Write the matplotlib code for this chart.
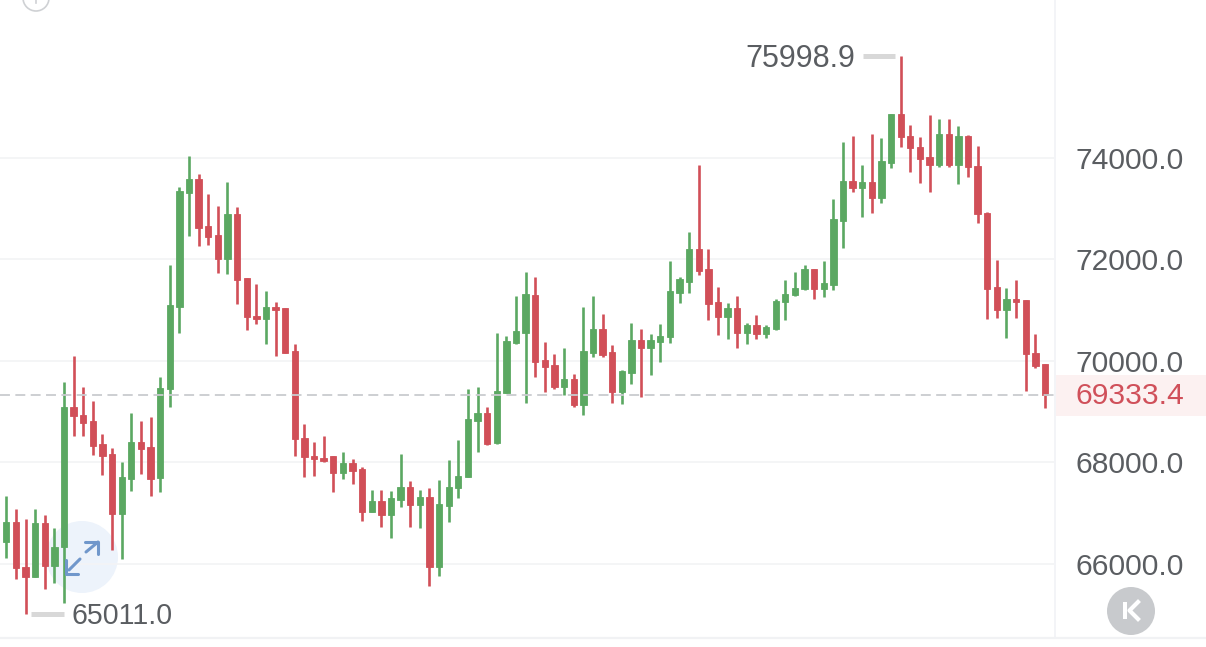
import matplotlib
matplotlib.use("Agg")
import matplotlib.pyplot as plt
from matplotlib.patches import Circle, Rectangle

opens = [66439,66821,65935,65738,66801,65967,66329,69096,68933,68815,68362,68159,66990,67679,68407,68309,
 67687,69451,71065,73309,73585,72654,72476,71998,72890,71624,70888,70823,71065,71033,70193,68486,68120,68093,
 68126,67797,67994,67864,67030,67246,66959,67260,67522,67161,67313,65935,67148,67490,67707,68809,68967,68376,
 69372,70344,70553,71295,70016,69911,69490,69636,69130,70148,70620,70167,69386,69766,70404,70258,70376,70459,
 71341,71557,72195,71801,71152,70868,71045,70547,70711,70528,70632,71152,71289,71408,71813,71419,71492,72758,
 73539,73402,73514,73211,73900,74852,74425,74215,74006,73848,74465,73848,74425,73841,72915,71447,71006,71211,
 71191,70154,69937]
closes = [66821,65915,65738,66801,65967,66341,69096,68913,68782,68329,68126,66990,67707,68407,68270,67679,
 69470,71093,73348,73585,72620,72443,71998,72890,71591,70856,70817,71059,71000,70160,68455,68100,68073,68034,
 67797,67982,67837,67030,67246,66959,67293,67510,67161,67313,65935,67181,67510,67732,68848,68967,68362,69400,
 70390,70581,71309,69982,69878,69478,69636,69124,70199,70620,70114,69386,69799,70409,70258,70409,70488,71374,
 71604,72195,71774,71124,70868,71045,70547,70711,70528,70671,71183,71315,71427,71813,71419,71526,72785,73539,
 73396,73514,73211,73933,74858,74400,74183,73967,73854,74465,73848,74419,73815,72884,71413,71006,71211,71163,
 70128,69898,69333.4]
highs = [67339,67077,66886,67077,66965,66703,69583,70094,69490,69215,68553,68278,68002,68967,68815,68888,
 69675,71880,73427,74031,73671,73278,73047,73526,73022,71624,71518,71380,71152,71033,70321,68750,68402,68520,
 68126,68211,68067,67915,67457,67457,67431,68171,67628,67457,67490,67654,68041,68435,69439,69490,69096,70541,
 70488,71276,71742,71655,70364,70128,70246,69746,71053,71276,70921,70305,69819,70750,70620,70522,70718,71965,
 71655,72530,73854,72201,71447,71132,71270,70738,70907,70705,71211,71585,71748,71880,71813,71965,73185,74301,
 74425,73848,74465,74380,74858,75998.9,74636,74400,74839,74754,74760,74622,74439,74228,72929,71978,71433,71591,
 71191,70528,69937]
lows = [66112,65699,65011,65738,65514,65620,65238,68520,68520,68140,67758,66276,66093,67443,67772,67344,
 67417,69096,70553,72463,72266,72285,71734,71715,71124,70612,70730,70337,70100,70160,68126,67719,67738,68014,
 67411,67679,67569,66852,67030,66722,66518,67128,66734,66715,65573,65770,66833,67305,67707,68199,68337,68362,
 69372,70331,69175,69687,69386,69451,69327,69096,68933,70081,70081,69175,69150,69537,69293,69726,69970,70344,
 71144,71341,71695,70809,70502,70435,70258,70337,70435,70455,70600,70809,71276,71394,71211,71262,71394,72226,
 73329,72837,72915,73112,73801,74215,73711,73506,73323,73821,73821,73486,73624,72719,70817,70848,70455,70848,
 69411,69858,69065]
tick_values = [66000, 68000, 70000, 72000, 74000]
tick_labels = ["66000.0", "68000.0", "70000.0", "72000.0", "74000.0"]
last_price = 69333.4
last_label = "69333.4"
high_label = "75998.9"
low_label = "65011.0"

GREEN = "#5BA862"
RED = "#D14F58"
FONT = "Liberation Sans"
TXT = "#5A5D61"
W, H = 1206, 647

fig = plt.figure(figsize=(W / 100, H / 100), dpi=100, facecolor="white")
bg = fig.add_axes([0, 0, 1, 1], zorder=0)
bg.set_xlim(0, W); bg.set_ylim(H, 0); bg.axis("off")
ax = fig.add_axes([0, 9 / H, 1054 / W, 638 / H], zorder=1)
ax.patch.set_alpha(0)
top = fig.add_axes([0, 0, 1, 1], zorder=2)
top.set_xlim(0, W); top.set_ylim(H, 0); top.axis("off"); top.patch.set_alpha(0)

ax.set_xlim(-0.655, 108.94)
ax.set_ylim(64543, 77102)
for s in ax.spines.values():
    s.set_visible(False)
ax.set_xticks([])
ax.yaxis.tick_right()
ax.set_yticks(tick_values, tick_labels, fontfamily=FONT, fontsize=21.6, color=TXT)
ax.tick_params(axis="y", length=0, pad=15.5)
ax.set_axisbelow(True)
ax.grid(axis="y", color="#F3F4F6", lw=1.3)

bg.add_patch(Rectangle((1056, 375), 150, 41, fc="#FCF1F1", ec="none"))
bg.plot([1055, 1055], [0, 638], color="#F1F2F6", lw=1.2)
bg.plot([0, W], [638, 638], color="#F1F2F4", lw=1.6)
bg.add_patch(Circle((82, 557), 36, fc="#EDF3FB", ec="none"))

xs = list(range(len(opens)))
for x, o, c, h, l in zip(xs, opens, closes, highs, lows):
    col = GREEN if c >= o else RED
    ax.vlines(x, l, h, color=col, lw=1.9, zorder=3)
    ax.bar(x, abs(c - o), bottom=min(o, c), width=0.66, color=col, edgecolor=col, lw=0.6, zorder=3)

ax.axhline(last_price, color="#C9CBCF", lw=1.3, dashes=(5.5, 3), zorder=4)
ax.annotate(last_label, xy=(1, last_price), xycoords=("axes fraction", "data"), xytext=(21.5, -1),
            textcoords="offset pixels", va="center", ha="left", fontfamily=FONT, fontsize=21.6,
            color="#D0505A", annotation_clip=False)

hi = highs.index(max(highs))
lo = lows.index(min(lows))
ax.hlines(highs[hi], hi - 3.95, hi - 0.62, color="#D8D8D8", lw=3.6, zorder=3)
ax.hlines(lows[lo], lo + 0.62, lo + 3.95, color="#D8D8D8", lw=3.6, zorder=3)
ax.annotate(high_label, xy=(hi, highs[hi]), xytext=(-45, -3), textcoords="offset pixels",
            ha="right", va="center", fontfamily=FONT, fontsize=22, color=TXT)
ax.annotate(low_label, xy=(lo, lows[lo]), xytext=(46, -2), textcoords="offset pixels",
            ha="left", va="center", fontfamily=FONT, fontsize=20.6, color=TXT)

BL = "#7097CB"
top.plot([69, 80], [570, 559], color=BL, lw=2.2, solid_capstyle="round")
top.plot([66, 66, 78], [560, 574, 574], color=BL, lw=2.2, solid_capstyle="round")
top.plot([86, 98], [552, 542], color=BL, lw=2.2, solid_capstyle="round")
top.plot([85, 98, 98], [542, 542, 554], color=BL, lw=2.2, solid_capstyle="round")
top.add_patch(Circle((1131, 611), 24, fc="#C8CACD", ec="none"))
top.add_patch(Rectangle((1122.5, 602), 4.2, 17, fc="white", ec="none"))
top.plot([1138, 1129.5, 1138], [602, 610.5, 619], color="white", lw=3)
top.add_patch(Circle((36, -2), 13, fc="white", ec="#CFD1D4", lw=1.2))
top.plot([36, 36], [0, 3], color="#CFD1D4", lw=1.2)

fig.savefig("out.png", dpi=100, facecolor="white")
